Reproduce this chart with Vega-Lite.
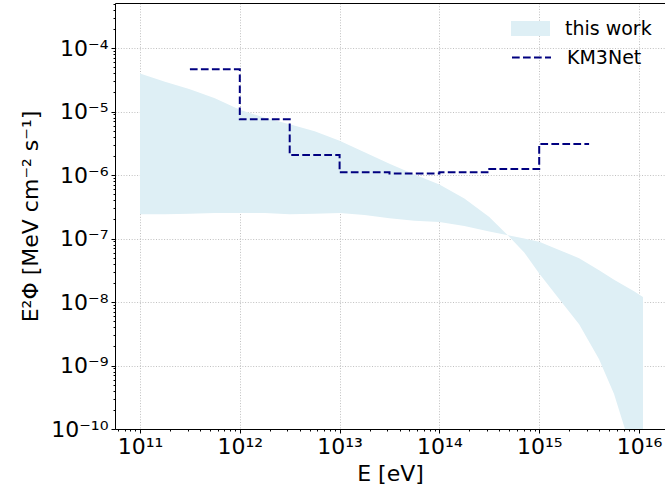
{
  "$schema": "https://vega.github.io/schema/vega-lite/v6.json",
  "width": 550,
  "height": 426,
  "autosize": {"type": "none"},
  "padding": {"left": 115, "top": 3, "right": 0, "bottom": 57},
  "background": "white",
  "config": {
    "view": {"stroke": null},
    "font": "DejaVu Sans",
    "axis": {
      "labelFont": "DejaVu Sans",
      "titleFont": "DejaVu Sans",
      "labelColor": "#000000",
      "titleColor": "#000000",
      "domainColor": "#000000",
      "domainWidth": 1,
      "tickColor": "#000000",
      "tickWidth": 1,
      "gridColor": "#b0b0b0",
      "gridDash": [1, 1.7],
      "gridWidth": 0.8,
      "labelOverlap": false,
      "labelFlush": false,
      "labelBound": false,
      "titleFontWeight": "normal"
    }
  },
  "datasets": {
    "band": [
      {"E": 1e11, "upper": 3.98e-5, "lower": 2.40e-7, "series": "this work"},
      {"E": 1.778e11, "upper": 2.95e-5, "lower": 2.40e-7, "series": "this work"},
      {"E": 3.162e11, "upper": 2.24e-5, "lower": 2.45e-7, "series": "this work"},
      {"E": 5.623e11, "upper": 1.62e-5, "lower": 2.51e-7, "series": "this work"},
      {"E": 1e12, "upper": 1.07e-5, "lower": 2.51e-7, "series": "this work"},
      {"E": 1.778e12, "upper": 7.94e-6, "lower": 2.51e-7, "series": "this work"},
      {"E": 3.162e12, "upper": 6.31e-6, "lower": 2.40e-7, "series": "this work"},
      {"E": 5.623e12, "upper": 4.90e-6, "lower": 2.45e-7, "series": "this work"},
      {"E": 1e13, "upper": 3.47e-6, "lower": 2.51e-7, "series": "this work"},
      {"E": 1.778e13, "upper": 2.29e-6, "lower": 2.34e-7, "series": "this work"},
      {"E": 3.162e13, "upper": 1.51e-6, "lower": 2.09e-7, "series": "this work"},
      {"E": 5.623e13, "upper": 1.02e-6, "lower": 1.91e-7, "series": "this work"},
      {"E": 1e14, "upper": 7.08e-7, "lower": 1.82e-7, "series": "this work"},
      {"E": 1.778e14, "upper": 4.27e-7, "lower": 1.58e-7, "series": "this work"},
      {"E": 3.162e14, "upper": 2.19e-7, "lower": 1.29e-7, "series": "this work"},
      {"E": 5.012e14, "upper": 1.07e-7, "lower": 1.12e-7, "series": "this work"},
      {"E": 7.079e14, "upper": 6.03e-8, "lower": 1.00e-7, "series": "this work"},
      {"E": 1e15, "upper": 2.82e-8, "lower": 8.91e-8, "series": "this work"},
      {"E": 1.585e15, "upper": 1.12e-8, "lower": 6.61e-8, "series": "this work"},
      {"E": 2.512e15, "upper": 4.47e-9, "lower": 4.90e-8, "series": "this work"},
      {"E": 3.981e15, "upper": 1.26e-9, "lower": 3.16e-8, "series": "this work"},
      {"E": 5.623e15, "upper": 3.55e-10, "lower": 2.24e-8, "series": "this work"},
      {"E": 7.079e15, "upper": 1.12e-10, "lower": 1.82e-8, "series": "this work"},
      {"E": 8.913e15, "upper": 3.55e-11, "lower": 1.48e-8, "series": "this work"},
      {"E": 1.096e16, "upper": 1.0e-11, "lower": 1.20e-8, "series": "this work"}
    ],
    "km3": [
      {"E": 3.162e11, "flux": 4.62e-5, "inst": "KM3Net"},
      {"E": 1e12, "flux": 7.53e-6, "inst": "KM3Net"},
      {"E": 3.162e12, "flux": 2.07e-6, "inst": "KM3Net"},
      {"E": 1e13, "flux": 1.10e-6, "inst": "KM3Net"},
      {"E": 3.162e13, "flux": 1.06e-6, "inst": "KM3Net"},
      {"E": 1e14, "flux": 1.10e-6, "inst": "KM3Net"},
      {"E": 3.162e14, "flux": 1.24e-6, "inst": "KM3Net"},
      {"E": 1e15, "flux": 3.08e-6, "inst": "KM3Net"},
      {"E": 3.162e15, "flux": 3.08e-6, "inst": "KM3Net"}
    ]
  },
  "layer": [
    {
      "data": {"name": "band"},
      "mark": {"type": "area", "clip": true, "opacity": 1},
      "encoding": {
        "x": {
          "field": "E",
          "type": "quantitative",
          "scale": {"type": "log", "domain": [5.616e10, 1.822e16], "nice": false},
          "axis": {
            "orient": "bottom",
            "title": "E [eV]",
            "titleFontSize": 22,
            "titlePadding": 6,
            "labelFontSize": 22,
            "labelPadding": 3,
            "values": [6e10, 7e10, 8e10, 9e10, 1e11, 2e11, 3e11, 4e11, 5e11, 6e11, 7e11, 8e11, 9e11, 1e12, 2e12, 3e12, 4e12, 5e12, 6e12, 7e12, 8e12, 9e12, 1e13, 2e13, 3e13, 4e13, 5e13, 6e13, 7e13, 8e13, 9e13, 1e14, 2e14, 3e14, 4e14, 5e14, 6e14, 7e14, 8e14, 9e14, 1e15, 2e15, 3e15, 4e15, 5e15, 6e15, 7e15, 8e15, 9e15, 1e16],
            "labelExpr": "abs(log(datum.value)/LN10 - round(log(datum.value)/LN10)) < 0.01 ? '10' + ['¹¹','¹²','¹³','¹⁴','¹⁵','¹⁶'][round(log(datum.value)/LN10) - 11] : ''",
            "tickSize": {"condition": {"test": "abs(log(datum.value)/LN10 - round(log(datum.value)/LN10)) < 0.01", "value": 4}, "value": 2},
            "gridOpacity": {"condition": {"test": "abs(log(datum.value)/LN10 - round(log(datum.value)/LN10)) < 0.01", "value": 1}, "value": 0}
          }
        },
        "y": {
          "field": "upper",
          "type": "quantitative",
          "scale": {"type": "log", "domain": [1e-10, 5.113e-4], "nice": false},
          "axis": {
            "title": "E²Φ [MeV cm⁻² s⁻¹]",
            "titleFontSize": 22,
            "titlePadding": 8,
            "labelFontSize": 22,
            "labelPadding": 3,
            "values": [2e-10, 3e-10, 4e-10, 5e-10, 6e-10, 7e-10, 8e-10, 9e-10, 1e-9, 2e-9, 3e-9, 4e-9, 5e-9, 6e-9, 7e-9, 8e-9, 9e-9, 1e-8, 2e-8, 3e-8, 4e-8, 5e-8, 6e-8, 7e-8, 8e-8, 9e-8, 1e-7, 2e-7, 3e-7, 4e-7, 5e-7, 6e-7, 7e-7, 8e-7, 9e-7, 1e-6, 2e-6, 3e-6, 4e-6, 5e-6, 6e-6, 7e-6, 8e-6, 9e-6, 1e-5, 2e-5, 3e-5, 4e-5, 5e-5, 6e-5, 7e-5, 8e-5, 9e-5, 1e-4, 2e-4, 3e-4, 4e-4, 5e-4, 1e-10],
            "labelExpr": "abs(log(datum.value)/LN10 - round(log(datum.value)/LN10)) < 0.01 ? '10⁻' + ['⁰','¹','²','³','⁴','⁵','⁶','⁷','⁸','⁹','¹⁰'][round(-log(datum.value)/LN10)] : ''",
            "tickSize": {"condition": {"test": "abs(log(datum.value)/LN10 - round(log(datum.value)/LN10)) < 0.01", "value": 4}, "value": 2},
            "gridOpacity": {"condition": {"test": "abs(log(datum.value)/LN10 - round(log(datum.value)/LN10)) < 0.01", "value": 1}, "value": 0}
          }
        },
        "y2": {"field": "lower"},
        "fill": {
          "field": "series",
          "type": "nominal",
          "scale": {"domain": ["this work"], "range": ["#deeff5"]},
          "legend": {
            "title": null,
            "orient": "none",
            "legendX": 396,
            "legendY": 6,
            "padding": 0,
            "symbolType": "M-1,-0.38H1V0.38H-1Z",
            "symbolSize": 1521,
            "symbolStrokeWidth": 0,
            "symbolOpacity": 1,
            "labelFont": "DejaVu Sans",
            "labelFontSize": 19,
            "labelColor": "#000000",
            "labelOffset": 15
          }
        }
      }
    },
    {
      "data": {"name": "km3"},
      "mark": {"type": "line", "interpolate": "step-after", "strokeDash": [7.7, 3.3], "strokeWidth": 2, "clip": true},
      "encoding": {
        "x": {
          "field": "E",
          "type": "quantitative",
          "axis": {"orient": "top", "labels": false, "ticks": false, "grid": false, "domain": true, "title": null}
        },
        "y": {"field": "flux", "type": "quantitative"},
        "stroke": {
          "field": "inst",
          "type": "nominal",
          "scale": {"domain": ["KM3Net"], "range": ["#000080"]},
          "legend": {
            "title": null,
            "orient": "none",
            "legendX": 396,
            "legendY": 34,
            "padding": 0,
            "symbolType": "stroke",
            "symbolSize": 1521,
            "symbolStrokeWidth": 2,
            "symbolDash": [7.7, 3.3],
            "labelFont": "DejaVu Sans",
            "labelFontSize": 19,
            "labelColor": "#000000",
            "labelOffset": 15
          }
        }
      }
    }
  ],
  "resolve": {"axis": {"x": "independent"}}
}
